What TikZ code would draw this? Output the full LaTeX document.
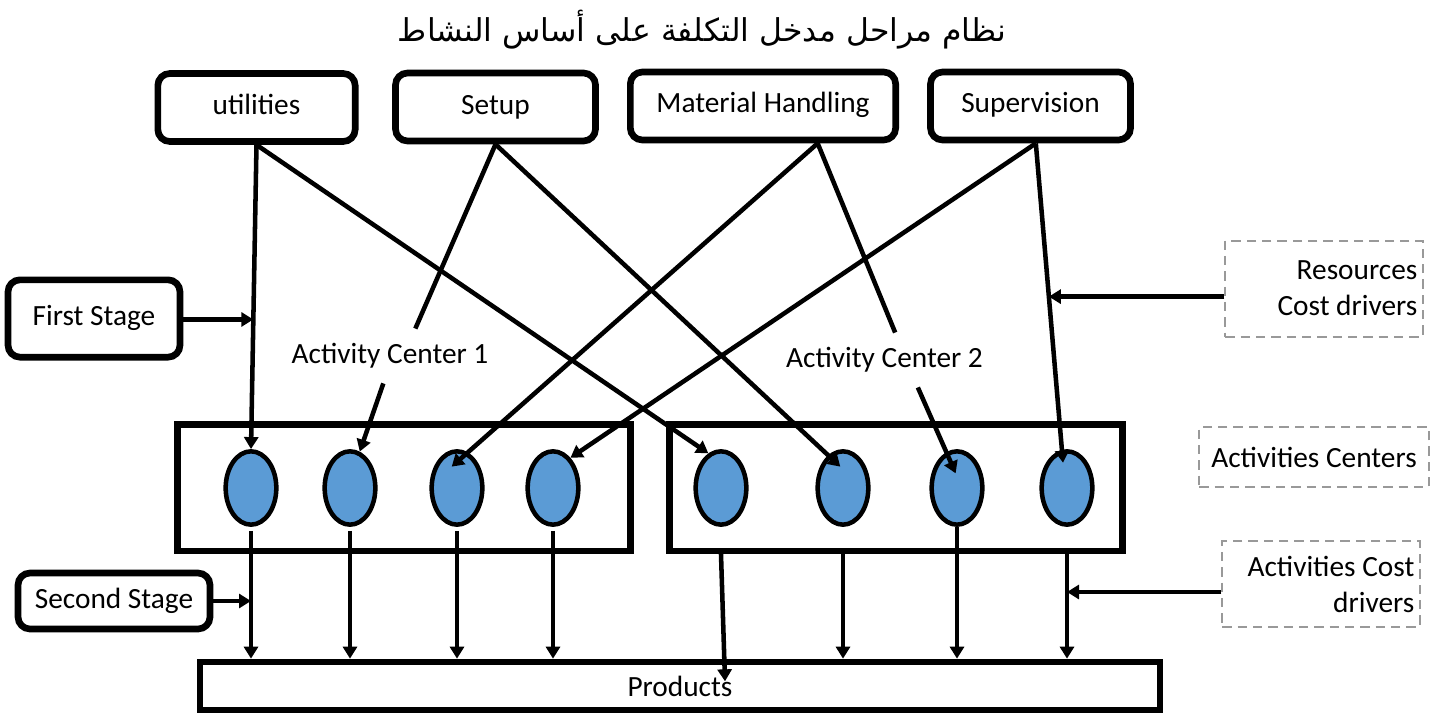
\documentclass[tikz,border=0pt]{standalone}
\usepackage{fontspec}
\setmainfont{Carlito}
\newfontfamily\arabicfont[Script=Arabic]{DejaVu Sans}
\TeXXeTstate=1
\usetikzlibrary{arrows.meta,shapes.geometric}

\begin{document}
\begin{tikzpicture}[
  x=0.75pt, y=-0.75pt,
  font=\fontsize{22}{27}\selectfont,
  srcbox/.style={draw, rounded corners=9pt, line width=5pt, inner sep=0pt,
               minimum height=51pt, text height=15pt, text depth=4.5pt},
  note/.style={draw=black!40, dashed, dash pattern=on 7pt off 4.5pt, line width=1.5pt,
               inner sep=0pt},
  centerbox/.style={draw, line width=5pt, minimum width=340pt, minimum height=95pt},
  act/.style={ellipse, draw, line width=3.4pt, fill=actblue, inner sep=0pt,
               minimum width=38pt, minimum height=55pt},
  lbl/.style={inner xsep=2pt, inner ysep=11pt},
  flow/.style={-{Triangle[length=9pt, width=10.5pt]}, line width=3.4pt},
  link/.style={line width=3.4pt},
]
  \definecolor{actblue}{HTML}{5B9BD5}
  \useasboundingbox (0,0) rectangle (1436,717);
  \node (title) at (702,30) {\fontsize{23.6}{28}\selectfont\arabicfont\beginR نظام مراحل مدخل التكلفة على أساس النشاط\endR};

  % Resources along the top
  \node[srcbox, minimum width=148pt] (util) at (256.5,107.5) {utilities};
  \node[srcbox, minimum width=150pt] (setup) at (495.5,107) {Setup};
  \node[srcbox, minimum width=199pt] (mh) at (763,106) {Material Handling};
  \node[srcbox, minimum width=150pt] (sup) at (1030.5,106) {Supervision};
  \coordinate (mhs) at ([xshift=41pt]mh.south);
  \coordinate (sups) at ([xshift=4pt]sup.south);

  % Stage boxes and driver notes
  \node[srcbox, minimum width=129pt, minimum height=58pt] (fs) at (94,318.5) {First Stage};
  \node[srcbox, minimum width=144pt, minimum height=42pt] (ss) at (114,601) {Second Stage};
  \node[note, minimum width=148pt, minimum height=72pt, text width=140pt, align=flush right] (res)
    at (1324,288.5) {Resources\\Cost drivers};
  \node[note, minimum width=172pt, minimum height=45pt] (acc) at (1314,457) {Activities Centers};
  \node[note, minimum width=148pt, minimum height=64pt, text width=140pt, align=flush right] (acd)
    at (1321,584) {Activities Cost\\drivers};
  \coordinate (acdw) at ([yshift=-6pt]acd.west);

  % Activity centers with their activities
  \node[centerbox] (c1) at (404,487.5) {};
  \node[centerbox] (c2) at (896,487.5) {};
  \foreach \n/\x in {e1/251,e2/350,e3/457,e4/553,f1/721,f2/843,f3/957,f4/1067}
    \node[act] (\n) at (\x,488) {};
  \node[lbl] (ac1) at (390,356) {Activity Center 1};
  \node[lbl] (ac2) at (884.5,360) {Activity Center 2};

  \node[draw, line width=5pt, minimum width=720pt, minimum height=36pt] (prod)
    at (680,686) {Products};

  % First stage: resources to activities
  \draw[flow] (util.south) -- (e1.north) coordinate[pos=0.574] (fsx);
  \draw[flow] (util.south) -- (f1.110);
  \draw[link] (setup.south) -- ([xshift=19pt]ac1.north);
  \draw[flow] ([xshift=-5pt]ac1.south) -- (e2.75);
  \draw[flow] (setup.south) -- ([xshift=-2pt, yshift=16pt]f2.center);
  \draw[flow] (mhs) -- ([xshift=-4pt, yshift=16pt]e3.center);
  \draw[link] (mhs) -- ([xshift=8pt]ac2.north);
  \draw[flow] ([xshift=25pt]ac2.south) -- ([xshift=-1pt, yshift=11pt]f3.center);
  \draw[flow] (sups) -- (e4.60);
  \draw[flow] (sups) -- ([xshift=-3pt, yshift=19pt]f4.center) coordinate[pos=0.48] (resx);
  \draw[flow] (fs.east |- fsx) -- (fsx);
  \draw[flow] (res.west |- resx) -- (resx);

  % Second stage: activities to products
  \foreach \n in {e1,e2,e3,e4}
    \draw[flow] ([yshift=-3pt]\n.south) -- (\n.south |- prod.north);
  \draw[flow] (f3.south) -- (f3.south |- prod.north);
  \foreach \n in {f2,f4}
    \draw[flow] (c2.south -| \n.south) -- (\n.south |- prod.north);
  \coordinate (f1p) at (f1.south |- prod.north);
  \draw[flow] (c2.south -| f1.south) -- ([xshift=3pt, yshift=-17pt]f1p);
  \draw[flow] (ss.east) -- (ss.east -| e1.south);
  \draw[flow] (acdw) -- (acdw -| f4.south);
\end{tikzpicture}
\end{document}
